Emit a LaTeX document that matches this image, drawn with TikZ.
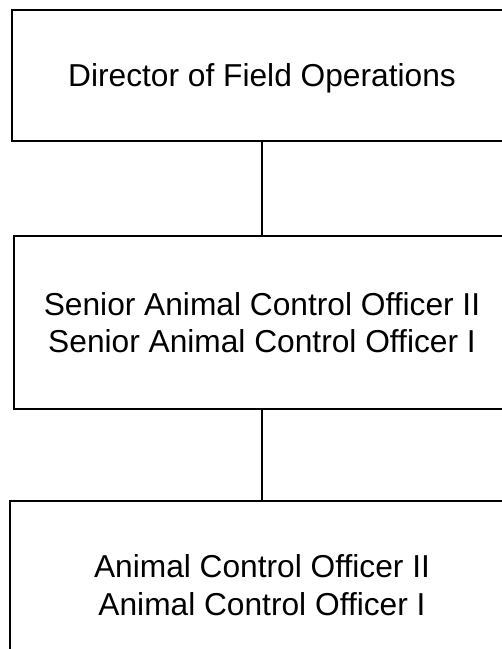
\documentclass[tikz,border=0pt]{standalone}
\usepackage{fontspec}
\setmainfont{Liberation Sans}
\begin{document}
\begin{tikzpicture}[x=1pt,y=-1pt,
  box/.style={draw=black, line width=1.3pt, rectangle, inner sep=0pt, align=center,
    font=\fontsize{31.7}{37.5}\selectfont, text depth=0pt},
  conn/.style={draw=black, line width=2pt}]
\useasboundingbox (0,0) rectangle (502,649);
\node[box, minimum width=500pt, minimum height=131pt] (dir) at (262,75.5) {Director of Field Operations};
\node[box, minimum width=496pt, minimum height=173pt] (sen) at (262,322.5) {Senior Animal Control Officer II\\Senior Animal Control Officer I};
\node[box, minimum width=504pt, minimum height=168pt] (aco) at (262,585) {Animal Control Officer II\\Animal Control Officer I};
\draw[conn] (dir.south) -- (sen.north);
\draw[conn] (sen.south) -- (aco.north);
\end{tikzpicture}
\end{document}
